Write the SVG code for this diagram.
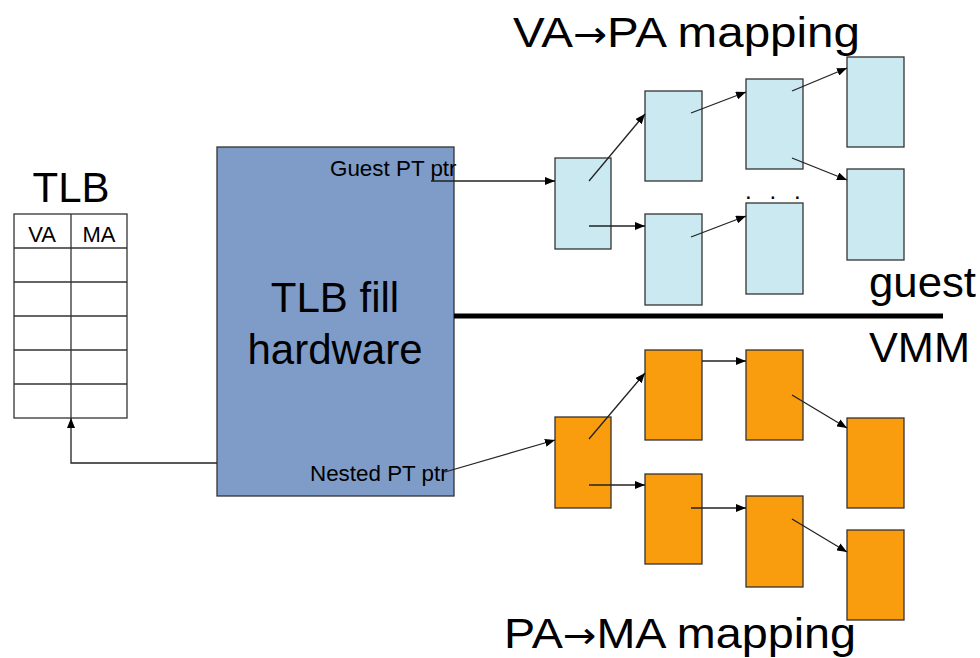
<svg xmlns="http://www.w3.org/2000/svg" width="980" height="658" viewBox="0 0 980 658">
<defs>
<marker id="ah" markerWidth="10" markerHeight="8" refX="10" refY="4" orient="auto" markerUnits="userSpaceOnUse"><path d="M0,0 L10,4 L0,8 Z" fill="#000"/></marker>
<style>
text{font-family:"Liberation Sans",Arial,sans-serif;fill:#000}
.big{font-size:42px}
.small{font-size:22.4px}
.arr{font-family:"DejaVu Sans",sans-serif;font-size:36px}
.cell{fill:#fff;stroke:#333;stroke-width:1.3}
.hw{fill:#7f9cc8;stroke:#333;stroke-width:1.3}
.gb{fill:#cbe9f0;stroke:#333;stroke-width:1.3}
.ob{fill:#f99c0e;stroke:#333;stroke-width:1.3}
.c{stroke:#222;stroke-width:1.3;fill:none;marker-end:url(#ah)}
</style>
</defs>
<rect width="980" height="658" fill="#fff"/>
<text class="big" x="513" y="47" textLength="347" lengthAdjust="spacingAndGlyphs">VA<tspan class="arr">→</tspan>PA mapping</text>
<text class="big" x="504" y="648" textLength="352" lengthAdjust="spacingAndGlyphs">PA<tspan class="arr">→</tspan>MA mapping</text>
<text class="big" x="869" y="297" textLength="107" lengthAdjust="spacingAndGlyphs">guest</text>
<text class="big" x="869" y="362" textLength="101" lengthAdjust="spacingAndGlyphs">VMM</text>
<g id="tlb">
<text class="big" x="71" y="202" text-anchor="middle">TLB</text>
<rect class="cell" x="14" y="214" width="113" height="204"/>
<path d="M14,248H127M14,282H127M14,316H127M14,350H127M14,384H127M71,214V418" stroke="#333" stroke-width="1.3" fill="none"/>
<text x="42" y="242" font-size="22" text-anchor="middle">VA</text>
<text x="99" y="242" font-size="22" text-anchor="middle">MA</text>
</g>
<g id="hardware">
<rect class="hw" x="217" y="147" width="237" height="349"/>
<text class="big" x="335" y="312" text-anchor="middle">TLB fill</text>
<text class="big" x="335" y="364" text-anchor="middle">hardware</text>
<text class="small" x="330" y="176">Guest PT ptr</text>
<text class="small" x="310" y="481">Nested PT ptr</text>
</g>
<line x1="454" y1="316" x2="943" y2="316" stroke="#000" stroke-width="5"/>
<g id="guest-pt">
<rect class="gb" x="555" y="158" width="56" height="91"/>
<rect class="gb" x="645" y="91" width="57" height="90"/>
<rect class="gb" x="645" y="214" width="57" height="91"/>
<rect class="gb" x="746" y="79" width="57" height="90"/>
<rect class="gb" x="746" y="203" width="57" height="91"/>
<rect class="gb" x="847" y="57" width="57" height="90"/>
<rect class="gb" x="847" y="169" width="57" height="91"/>
<text x="745" y="199" font-size="24" letter-spacing="5.6">. . .</text>
</g>
<g id="nested-pt">
<rect class="ob" x="555" y="417" width="56" height="91"/>
<rect class="ob" x="645" y="350" width="57" height="90"/>
<rect class="ob" x="645" y="474" width="57" height="90"/>
<rect class="ob" x="746" y="350" width="57" height="90"/>
<rect class="ob" x="746" y="496" width="57" height="91"/>
<rect class="ob" x="847" y="418" width="57" height="90"/>
<rect class="ob" x="847" y="530" width="57" height="90"/>
</g>
<g id="connectors">
<path class="c" d="M217,463H71V418"/>
<line class="c" x1="431" y1="181" x2="555" y2="181"/>
<line class="c" x1="445" y1="472" x2="555" y2="440"/>
<line class="c" x1="589" y1="181" x2="645" y2="114"/>
<line class="c" x1="589" y1="226" x2="645" y2="226"/>
<line class="c" x1="691" y1="113" x2="746" y2="92"/>
<line class="c" x1="691" y1="237" x2="746" y2="216"/>
<line class="c" x1="792" y1="91" x2="847" y2="68"/>
<line class="c" x1="792" y1="158" x2="847" y2="180"/>
<line class="c" x1="589" y1="439" x2="645" y2="373"/>
<line class="c" x1="589" y1="485" x2="645" y2="485"/>
<line class="c" x1="702" y1="361" x2="746" y2="361"/>
<line class="c" x1="691" y1="508" x2="746" y2="508"/>
<line class="c" x1="792" y1="395" x2="847" y2="428"/>
<line class="c" x1="792" y1="519" x2="847" y2="552"/>
</g>
</svg>
